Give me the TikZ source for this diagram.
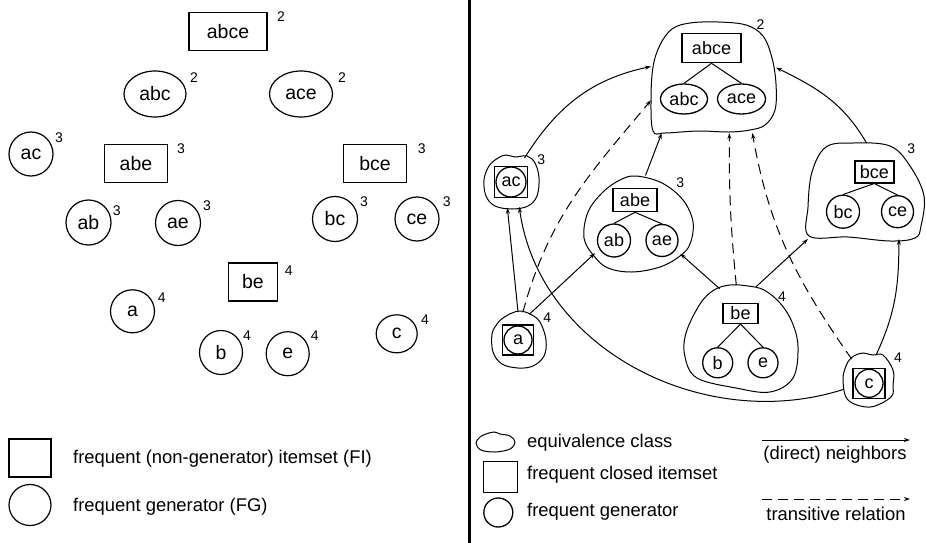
\documentclass[tikz,border=0pt]{standalone}
\usepackage{fontspec}
\setmainfont{Liberation Sans}
\usetikzlibrary{arrows.meta,shapes.geometric}

\tikzset{
  lbl/.style={font=\fontsize{19.5}{22}\selectfont},
  fi/.style={lbl, draw, line width=1.2pt, minimum height=38pt, inner sep=0pt},
  fg/.style={lbl, draw, line width=1.2pt, ellipse, minimum height=44pt, inner sep=0pt},
  rs/.style={font=\fontsize{18}{20}\selectfont, draw, line width=1.6pt, inner sep=0pt},
  rg/.style={font=\fontsize{18}{20}\selectfont, draw, line width=1.3pt, circle, inner sep=0pt},
  cnt/.style={font=\fontsize{14}{15}\selectfont, inner sep=0pt},
  txt/.style={font=\fontsize{18.4}{20}\selectfont, anchor=west, inner sep=0pt},
  cls/.style={inner sep=0pt, outer sep=0pt},
  blob/.style={line width=1pt},
  tree/.style={line width=1pt},
  nb/.style={line width=1pt, -{Stealth[length=6pt,width=4pt]}},
  tr/.style={nb, dash pattern=on 10pt off 6pt}
}

\begin{document}
\begin{tikzpicture}[x=1pt, y=-1pt]
            \useasboundingbox (0,0) rectangle (926,543);
            \draw[line width=3pt] (469,0) -- (469,543);
            \node[fi, minimum width=78pt] (Labce) at (228,31.5) {abce};
            \node[fg, minimum width=62pt, minimum height=46pt] (Labc) at (155,94) {abc};
            \node[fg, minimum width=63pt, minimum height=46pt] (Lace) at (301,94) {ace};
            \node[fg, minimum width=44pt] (Lac) at (31,154) {ac};
            \node[fi, minimum width=63pt] (Labe) at (136,163.5) {abe};
            \node[fi, minimum width=63pt] (Lbce) at (375,163.5) {bce};
            \node[fg, minimum width=45pt, minimum height=45pt] (Lab) at (88.5,222.5) {ab};
            \node[fg, minimum width=45pt, minimum height=45pt] (Lae) at (178,223) {ae};
            \node[fg, minimum width=45pt, minimum height=45pt] (Lbc) at (335,219) {bc};
            \node[fg, minimum width=44pt] (Lce) at (417,219) {ce};
            \node[fi, minimum width=49pt] (Lbe) at (253,282) {be};
            \node[fg, minimum width=44pt, minimum height=43pt] (La) at (132.5,311.3) {a};
            \node[fg, minimum width=43pt] (Lb) at (221,352.5) {b};
            \node[fg, minimum width=43pt] (Le) at (287.7,353.7) {e};
            \node[fg, minimum width=41pt, minimum height=38pt] (Lc) at (396.7,333.8) {c};
            \node[fi, minimum width=42pt] (keyFI) at (30,458) {};
            \node[fg, minimum width=42pt, minimum height=41pt] (keyFG) at (30,505) {};
            \node[txt] (txtFI) at (73,459) {frequent (non-generator) itemset (FI)};
            \node[txt] (txtFG) at (73,507) {frequent generator (FG)};
            \foreach \x/\y/\s [count=\i] in {281/17/2, 194/78/2, 342/78/2, 59/138/3, 181/149/3,
                421.7/149/3, 116.7/211/3, 207/206/3, 364/202/3, 446.7/202/3, 288.7/271/4,
                161.7/297.3/4, 247/335.3/4, 314.7/335.3/4, 425/320/4, 760.5/24.5/2,
                541.3/160/3, 680.3/183/3, 911.3/148.3/3, 782/296.7/4, 547.3/317.3/4, 898/357.3/4}{
              \node[cnt] (sup\i) at (\x,\y) {\s};
            }
            \node[cls, minimum width=125pt, minimum height=111pt] (Cabce) at (713.5,77.5) {};
            \node[cls, ellipse, minimum width=55pt, minimum height=53pt] (Cac) at (511.5,181.5) {};
            \node[cls, ellipse, minimum width=110pt, minimum height=96pt] (Cabe) at (638,223) {};
            \node[cls, minimum width=117pt, minimum height=96pt] (Cbce) at (866.5,191) {};
            \node[cls, ellipse, minimum width=116pt, minimum height=108pt] (Cbe) at (741,339) {};
            \node[cls, ellipse, minimum width=54pt, minimum height=56pt] (Ca) at (519,340) {};
            \node[cls, ellipse, minimum width=51pt, minimum height=54pt] (Cc) at (868,380) {};
            \draw[blob] plot[smooth cycle, tension=0.6] coordinates {(672,29) (690,23) (718,22) (746,25)
              (763,36) (772,58) (776,84) (775,110) (765,125) (750,130) (729,132) (698,131) (665,133)
              (653,131) (651,100) (653,67) (660,45)};
            \draw[blob] plot[smooth cycle, tension=0.6] coordinates {(498,158) (506,155) (515,157) (527,156)
              (535,163) (539,178) (537,196) (528,206) (512,209) (495,206) (486,196) (484,180) (489,166)};
            \draw[blob] plot[smooth cycle, tension=0.6] coordinates {(503,318) (512,313) (520,311) (530,314)
              (540,322) (546,340) (544,356) (533,366) (518,368) (502,364) (493,352) (492,334) (497,324)};
            \draw[blob] plot[smooth cycle, tension=0.6] coordinates {(636,176) (662,183) (683,200) (693,222)
              (690,244) (680,256) (660,267) (632,272) (608,268) (594,256) (584,238) (588,212) (603,192) (620,180)};
            \draw[blob] plot[smooth cycle, tension=0.6] coordinates {(730,285) (748,286) (764,290) (780,303)
              (792,322) (798,347) (793,378) (770,392) (736,388) (697,378) (685,357) (686,333) (700,304) (714,290)};
            \draw[blob] plot[smooth cycle, tension=0.6] coordinates {(858,354) (863,353) (873,355) (883,355)
              (893,370) (893,385) (891,397) (870,407) (848,400) (843,380) (846,366) (851,358)};
            \draw[blob] plot[smooth cycle, tension=0.6] coordinates {(826,147) (853,143) (890,146) (910,166)
              (924,196) (921,226) (915,238) (890,241) (848,237) (809,236) (808,207) (812,172)};
            \node[rs, minimum width=59pt, minimum height=29pt] (Rabce) at (711.5,48) {abce};
            \node[rg, ellipse, minimum width=47pt, minimum height=30pt] (Rabc) at (684,99) {abc};
            \node[rg, ellipse, minimum width=48pt, minimum height=30pt] (Race) at (741.5,99) {ace};
            \draw[tree] (Rabce.south) -- (Rabc.north);
            \draw[tree] (Rabce.south) -- (Race.north);
            \node[rs, minimum width=33pt, minimum height=31pt] (Racbox) at (511,182) {};
            \node[rg, minimum size=30pt] (Rac) at (511,182) {ac};
            \node[rs, minimum width=44pt, minimum height=23pt] (Rabe) at (635,200) {abe};
            \node[rg, minimum size=33pt] (Rab) at (614,240.5) {ab};
            \node[rg, minimum size=32pt] (Rae) at (662,240.5) {ae};
            \draw[tree] (Rabe.south) -- (Rab.north);
            \draw[tree] (Rabe.south) -- (Rae.north);
            \node[rs, minimum width=39pt, minimum height=22pt] (Rbce) at (874.3,171.7) {bce};
            \node[rg, minimum size=33pt] (Rbc) at (843,211.7) {bc};
            \node[rg, minimum size=32pt] (Rce) at (897.5,211.7) {ce};
            \draw[tree] (Rbce.south) -- (Rbc.north);
            \draw[tree] (Rbce.south) -- (Rce.north);
            \node[rs, minimum width=35pt, minimum height=20pt] (Rbe) at (740.5,313.3) {be};
            \node[rg, minimum size=30pt] (Rb) at (717.7,362.8) {b};
            \node[rg, minimum size=30pt] (Re) at (763,362.8) {e};
            \draw[tree] (Rbe.south) -- (Rb.north);
            \draw[tree] (Rbe.south) -- (Re.north);
            \node[rs, minimum width=31pt, minimum height=30pt] (Rabox) at (518,340) {};
            \node[rg, minimum size=28pt] (Ra) at (518,340) {a};
            \node[rs, minimum width=32pt, minimum height=30pt] (Rcbox) at (869,383.3) {};
            \node[rg, minimum size=28pt] (Rc) at (869,383.3) {c};
            \draw[nb] (Cac.61) to[out=58,in=192] (Cabce.170);
            \draw[tr] (Ca.82) to[out=75,in=230] (Cabce.200);
            \draw[nb] (Ca.92) -- (Cac.261);
            \draw[nb] (Cc.201) to[out=198,in=-82] (Cac.287);
            \draw[nb] (Ca.68) -- (Cabe.215);
            \draw[nb] (Cabe.81.5) -- (Cabce.227);
            \draw[nb] (Cbe.113) -- (Cabe.324);
            \draw[nb] (Cbe.74) -- (Cbce.south west);
            \draw[nb] (Cbce.north) to[out=120,in=-26] (Cabce.9);
            \draw[nb] (Cc.72) to[out=65,in=-90] (Cbce.-56);
            \draw[tr] (Cbe.95) to[bend left=3] (Cabce.286);
            \draw[tr] (Cc.128) to[out=125,in=-80] (Cabce.-55);
            \draw[blob] plot[smooth cycle, tension=0.6] coordinates {(486,434) (494,432) (500,434) (510,436)
              (515,442) (510,449) (495,452) (481,450) (476,443) (480,437)};
            \node[rs, minimum width=34pt, minimum height=31pt] (keyFC) at (500.5,477) {};
            \node[rg, minimum size=29pt] (keyG) at (498.3,512.5) {};
            \node[txt] (txtEC) at (527,443) {equivalence class};
            \node[txt] (txtFC) at (527,475) {frequent closed itemset};
            \node[txt] (txtG) at (527,512) {frequent generator};
            \coordinate (nbA) at (762,440);
            \coordinate (nbB) at (910,440);
            \draw[nb] (nbA) -- (nbB);
            \node[txt, anchor=center] (txtNB) at (835,455) {(direct) neighbors};
            \coordinate (trA) at (762,499);
            \coordinate (trB) at (910,499);
            \draw[tr] (trA) -- (trB);
            \node[txt, anchor=center] (txtTR) at (836,514) {transitive relation};
          \end{tikzpicture}
\end{document}
